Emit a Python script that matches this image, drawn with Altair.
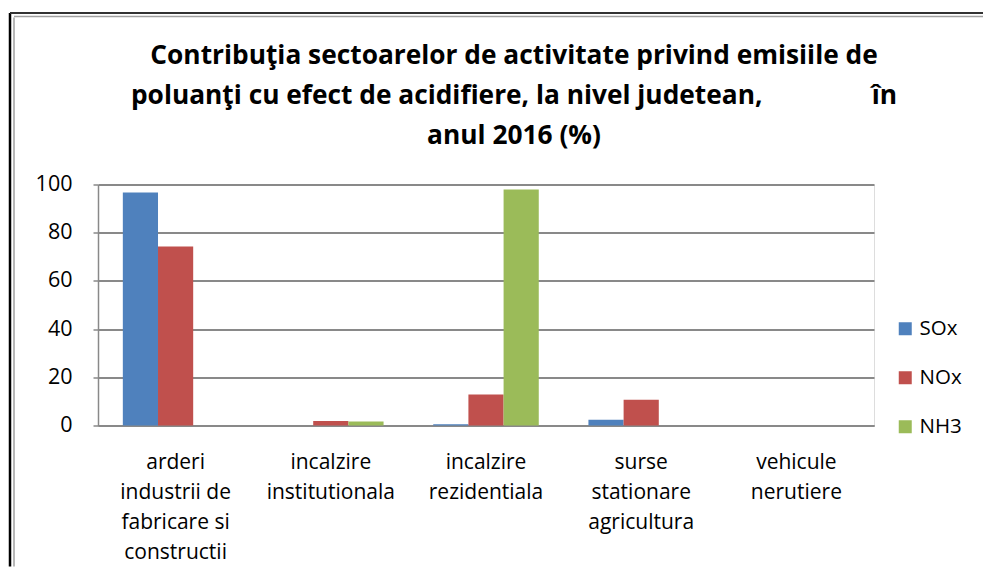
import altair as alt
import pandas as pd

categories = [
    "arderi|industrii de|fabricare si|constructii",
    "incalzire|institutionala",
    "incalzire|rezidentiala",
    "surse|stationare|agricultura",
    "vehicule|nerutiere",
]
series = ["SOx", "NOx", "NH3"]
sox = [96.7, 0.0, 0.5, 2.4, 0.0]
nox = [74.3, 1.9, 12.9, 10.7, 0.0]
nh3 = [0.0, 1.7, 97.9, 0.0, 0.0]
colors = ["#4F81BD", "#C0504D", "#9BBB59"]
y_ticks = [0, 20, 40, 60, 80, 100]
title_lines = [
    "Contribuţia sectoarelor de activitate privind emisiile de",
    "poluanţi cu efect de acidifiere, la nivel judetean," + "\u00a0" * 16 + "în",
    "anul 2016 (%)",
]

rows = []
for i, c in enumerate(categories):
    for s, vals in zip(series, [sox, nox, nh3]):
        rows.append({"cat": c, "serie": s, "val": vals[i]})
df = pd.DataFrame(rows)

FONT = "Open Sans"
W, H = 776, 241
GRID = "#898989"

bars = alt.Chart(df).mark_bar().encode(
    x=alt.X("cat:N", sort=categories, title=None,
            scale=alt.Scale(paddingInner=0.32, paddingOuter=0.16),
            axis=alt.Axis(labelExpr="split(datum.value, '|')", labelAngle=0,
                          labelFontSize=21, labelFont=FONT, labelColor="black",
                          labelLineHeight=30, labelPadding=26, labelBaseline="top",
                          ticks=False, domainColor=GRID, domainWidth=2,
                          labelLimit=300)),
    xOffset=alt.XOffset("serie:N", sort=series),
    y=alt.Y("val:Q", title=None,
            scale=alt.Scale(domain=[0, 100], nice=False),
            axis=alt.Axis(values=y_ticks, labelFontSize=21.5, labelFont=FONT,
                          labelColor="black", labelPadding=21, tickSize=5,
                          tickColor=GRID, tickWidth=1.5,
                          domainColor=GRID, domainWidth=1.5,
                          gridColor=GRID, gridWidth=2)),
    color=alt.Color("serie:N", sort=series,
                    scale=alt.Scale(domain=series, range=colors),
                    legend=alt.Legend(title=None, orient="none", legendX=797, legendY=134,
                                      symbolType="square", symbolSize=169,
                                      symbolStrokeWidth=0, labelFontSize=20.5,
                                      labelFont=FONT, labelColor="black",
                                      labelOffset=4, rowPadding=28)),
)

title_df = pd.DataFrame({"t": [title_lines]})
title = alt.Chart(title_df).mark_text(
    font=FONT, fontSize=26.3, fontWeight="bold", align="center",
    baseline="alphabetic", lineHeight=40, color="black"
).encode(
    text="t",
    x=alt.value(416), y=alt.value(-121),
)

border_df = pd.DataFrame({"k": [1]})
left_black = alt.Chart(border_df).mark_rule(color="black", strokeWidth=2.5).encode(
    x=alt.value(-88), y=alt.value(-171.5), y2=alt.value(382))
left_gray = alt.Chart(border_df).mark_rule(color="#a0a0a0", strokeWidth=1.5).encode(
    x=alt.value(-84), y=alt.value(-167), y2=alt.value(382))
top_black = alt.Chart(border_df).mark_rule(color="#333333", strokeWidth=2).encode(
    x=alt.value(-88), x2=alt.value(885), y=alt.value(-171.5))
top_gray = alt.Chart(border_df).mark_rule(color="#a0a0a0", strokeWidth=1.5).encode(
    x=alt.value(-84), x2=alt.value(885), y=alt.value(-168))

chart = alt.layer(bars, title, left_black, left_gray, top_black, top_gray).properties(
    width=W, height=H,
    padding={"left": 0, "top": 3.5, "right": 0, "bottom": 0},
).configure_view(stroke=None).configure(font=FONT)

chart.save("out.html", embed_options={"renderer": "svg", "actions": False})
